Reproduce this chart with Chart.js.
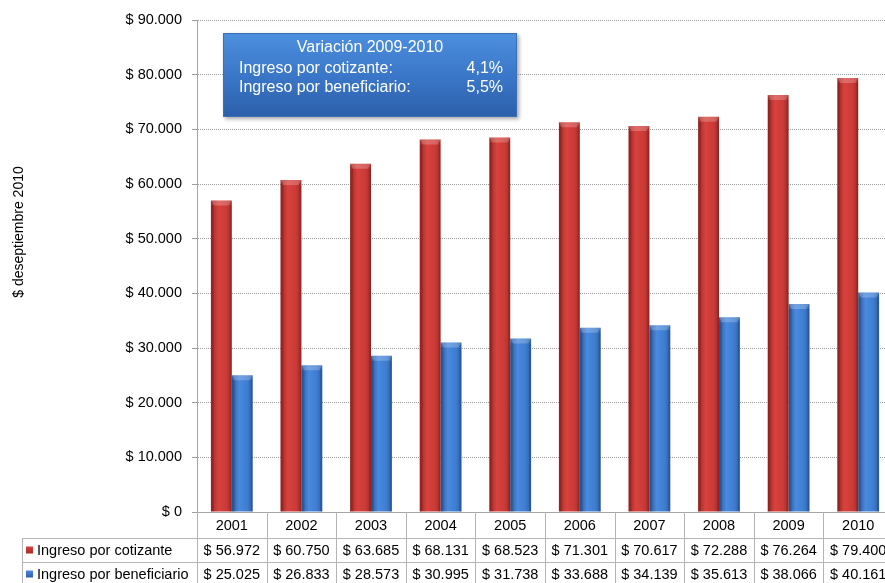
<!DOCTYPE html>
<html>
<head>
<meta charset="utf-8">
<script src="https://cdn.jsdelivr.net/npm/chart.js@4.4.1/dist/chart.umd.min.js"></script>
<style>
  html, body { margin: 0; padding: 0; background: #fff; overflow: hidden; }
  #wrap { width: 895px; height: 583px; position: relative; }
</style>
</head>
<body>
<div id="wrap"><canvas id="chart"></canvas></div>
<script>
// data
const years        = ['2001', '2002', '2003', '2004', '2005', '2006', '2007', '2008', '2009', '2010'];
const cotizante    = [56972, 60750, 63685, 68131, 68523, 71301, 70617, 72288, 76264, 79400];
const beneficiario = [25025, 26833, 28573, 30995, 31738, 33688, 34139, 35613, 38066, 40161];
const seriesNames  = ['Ingreso por cotizante', 'Ingreso por beneficiario'];
const yTitle       = '$ deseptiembre 2010';
const boxTitle     = 'Variación 2009-2010';
const boxLabels    = ['Ingreso por cotizante:', 'Ingreso por beneficiario:'];
const boxValues    = ['4,1%', '5,5%'];

const FONT = "'Liberation Sans', Arial, sans-serif";
const TXT  = 14.5;
const RED  = ['#9e2724', '#d8423d', '#c93a36', '#a32a27'];
const BLUE = ['#2a5a9e', '#4a8ade', '#3d7ccf', '#2c5ea5'];

const fmt = v => '$ ' + String(v).replace(/\B(?=(\d{3})+(?!\d))/g, '.');

function barFill(stops, flat) {
  return c => {
    const chart = c.chart, xs = chart.scales.x;
    if (!chart.chartArea || !xs || c.dataIndex == null) return flat;
    const bw = xs.width / years.length * 0.3;
    const cx = xs.getPixelForValue(c.dataIndex) + (c.datasetIndex === 0 ? -bw / 2 : bw / 2);
    const g = chart.ctx.createLinearGradient(cx - bw / 2, 0, cx + bw / 2, 0);
    g.addColorStop(0, stops[0]);
    g.addColorStop(0.35, stops[1]);
    g.addColorStop(0.75, stops[2]);
    g.addColorStop(1, stops[3]);
    return g;
  };
}

// small bevel on top of every bar
const bevel = {
  id: 'bevel',
  afterDatasetsDraw(chart) {
    const { ctx } = chart;
    ctx.save();
    chart.data.datasets.forEach((ds, di) => {
      chart.getDatasetMeta(di).data.forEach(bar => {
        const l = bar.x - bar.width / 2, r = bar.x + bar.width / 2, t = bar.y;
        ctx.fillStyle = 'rgba(255,255,255,0.22)';
        ctx.beginPath();
        ctx.moveTo(l, t); ctx.lineTo(r, t); ctx.lineTo(r - 3, t + 5); ctx.lineTo(l + 3, t + 5);
        ctx.closePath(); ctx.fill();
        ctx.fillStyle = 'rgba(0,0,0,0.12)';
        ctx.fillRect(l, t + 5, 3, bar.base - t - 5);
        ctx.fillRect(r - 2, t + 5, 2, bar.base - t - 5);
      });
    });
    ctx.restore();
  }
};

// y title, text box and the data table under the axis
const extras = {
  id: 'extras',
  afterDraw(chart) {
    const { ctx, chartArea: a, scales: { x } } = chart;
    const cw = x.width / years.length;
    ctx.save();

    // axis title
    ctx.translate(19, 232);
    ctx.rotate(-Math.PI / 2);
    ctx.fillStyle = '#000';
    ctx.font = `14px ${FONT}`;
    ctx.textAlign = 'center'; ctx.textBaseline = 'middle';
    ctx.fillText(yTitle, 0, 0);
    ctx.setTransform(1, 0, 0, 1, 0, 0);

    // table grid
    const r1 = a.bottom, r2 = a.bottom + 26, r3 = a.bottom + 50, r4 = a.bottom + 74;
    ctx.strokeStyle = '#b4b4b4'; ctx.lineWidth = 1;
    ctx.beginPath();
    for (let i = 0; i <= years.length; i++) {
      const px = Math.round(a.left + i * cw) + 0.5;
      ctx.moveTo(px, r1); ctx.lineTo(px, r4);
    }
    ctx.moveTo(22.5, r2); ctx.lineTo(22.5, r4);
    [r2, r3, r4].forEach(y => { ctx.moveTo(22, y + 0.5); ctx.lineTo(a.right, y + 0.5); });
    ctx.stroke();

    // rows
    [[cotizante, RED], [beneficiario, BLUE]].forEach(([vals, col], r) => {
      const yc = (r === 0 ? r2 : r3) + 12.5;
      const g = ctx.createLinearGradient(26, yc - 4, 26, yc + 4);
      g.addColorStop(0, col[1]); g.addColorStop(1, col[0]);
      ctx.fillStyle = g;
      ctx.fillRect(26, yc - 4, 7, 7);
      ctx.fillStyle = '#000';
      ctx.font = `${TXT}px ${FONT}`;
      ctx.textAlign = 'left'; ctx.textBaseline = 'middle';
      ctx.fillText(seriesNames[r], 37, yc);
      ctx.textAlign = 'center';
      vals.forEach((v, i) => ctx.fillText(fmt(v), x.getPixelForValue(i), yc));
    });

    // text box
    const bx = 223, by = 33, bw = 294, bh = 84;
    ctx.shadowColor = 'rgba(0,0,0,0.35)'; ctx.shadowBlur = 4; ctx.shadowOffsetX = 2; ctx.shadowOffsetY = 2;
    const bg = ctx.createLinearGradient(0, by, 0, by + bh);
    bg.addColorStop(0, '#4d8fdf'); bg.addColorStop(0.5, '#3b77c9'); bg.addColorStop(1, '#2c5fa9');
    ctx.fillStyle = bg;
    ctx.fillRect(bx, by, bw, bh);
    ctx.shadowColor = 'transparent';
    ctx.strokeStyle = '#3a6fb8';
    ctx.strokeRect(bx + 0.5, by + 0.5, bw - 1, bh - 1);
    ctx.fillStyle = '#fff';
    ctx.font = `16px ${FONT}`;
    ctx.textBaseline = 'middle';
    ctx.textAlign = 'center';
    ctx.fillText(boxTitle, bx + bw / 2, by + 15);
    boxLabels.forEach((t, i) => {
      ctx.textAlign = 'left';
      ctx.fillText(t, 239, by + 36 + i * 19);
      ctx.textAlign = 'right';
      ctx.fillText(boxValues[i], 503, by + 36 + i * 19);
    });
    ctx.restore();
  }
};

new Chart(document.getElementById('chart'), {
  type: 'bar',
  data: {
    labels: years,
    datasets: [
      { label: seriesNames[0], data: cotizante, backgroundColor: barFill(RED, '#c93a36'),
        categoryPercentage: 0.6, barPercentage: 1.0, borderWidth: 0 },
      { label: seriesNames[1], data: beneficiario, backgroundColor: barFill(BLUE, '#3d7ccf'),
        categoryPercentage: 0.6, barPercentage: 1.0, borderWidth: 0 },
    ],
  },
  options: {
    responsive: true, maintainAspectRatio: false, animation: false,
    layout: { padding: { top: 20, left: 0, right: 2, bottom: 0 } },
    plugins: { legend: { display: false }, tooltip: { enabled: false } },
    scales: {
      x: {
        afterFit: s => { s.height = 71; },
        grid: { display: false, drawTicks: false },
        border: { display: true, color: '#a6a6a6' },
        ticks: { color: '#000', font: { family: FONT, size: TXT }, padding: 5, maxRotation: 0 },
      },
      y: {
        min: 0, max: 90000,
        afterFit: s => { s.width = 197; },
        grid: { color: '#9c9c9c', tickLength: 5 },
        border: { color: '#a6a6a6', dash: [1, 1] },
        ticks: { stepSize: 10000, color: '#000', font: { family: FONT, size: TXT }, padding: 10, callback: v => fmt(v) },
      },
    },
  },
  plugins: [bevel, extras],
});
</script>
</body>
</html>
